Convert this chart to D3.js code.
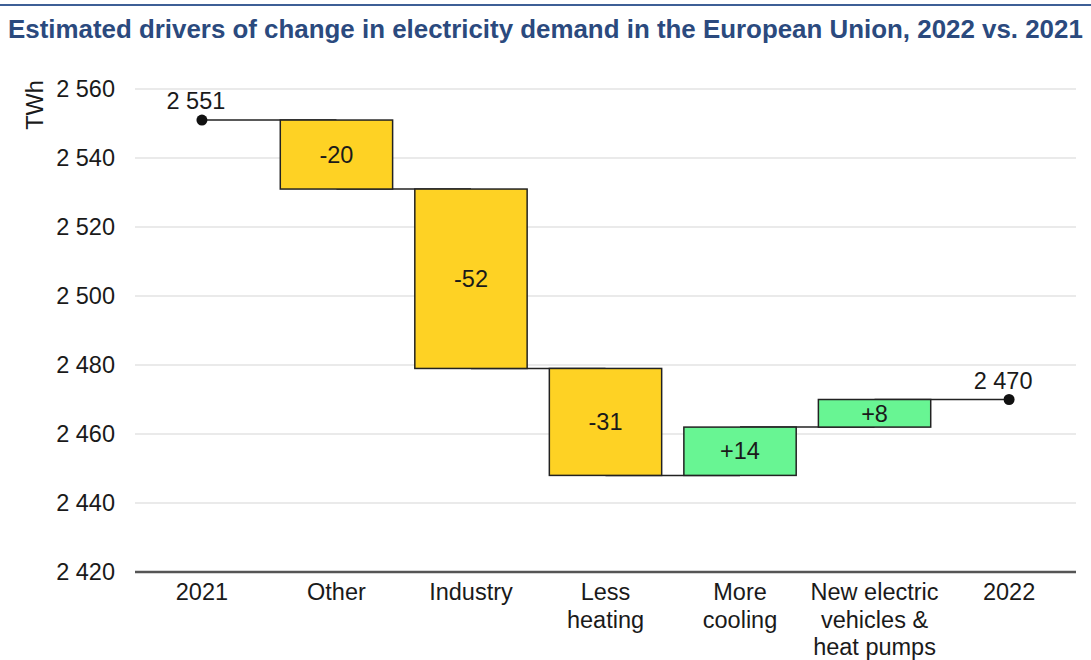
<!DOCTYPE html>
<html>
<head>
<meta charset="utf-8">
<script src="https://cdn.jsdelivr.net/npm/d3@7"></script>
<style>
  body { margin: 0; background: #fff; overflow: hidden; }
  text { font-family: "Liberation Sans", Arial, sans-serif; fill: #1a1a1a; }
</style>
</head>
<body>
<div id="chart"></div>
<script>
// Data
const categories = ['2021', 'Other', 'Industry', 'Less heating', 'More cooling', 'New electric vehicles & heat pumps', '2022'];
const categoryLines = [['2021'], ['Other'], ['Industry'], ['Less', 'heating'], ['More', 'cooling'], ['New electric', 'vehicles &', 'heat pumps'], ['2022']];
const startTotal = 2551;
const changes = [null, -20, -52, -31, 14, 8, null];
const endTotal = 2470;
const yTicks = [2420, 2440, 2460, 2480, 2500, 2520, 2540, 2560];

const width = 1091;
const height = 660;
const margin = { top: 89, right: 15, bottom: 88, left: 135 };
const innerWidth = width - margin.left - margin.right;
const innerHeight = height - margin.top - margin.bottom;
const fontSize = '23.5px';

const fmt = v => d3.format(',')(v).replace(/,/g, ' ');

// build waterfall steps
let running = startTotal;
const steps = categories.map((c, i) => {
  if (i === 0) return { cat: c, type: 'total', value: startTotal, level: startTotal };
  if (i === categories.length - 1) return { cat: c, type: 'total', value: endTotal, level: endTotal };
  const from = running;
  running += changes[i];
  return { cat: c, type: 'delta', value: changes[i], from: from, to: running, level: running };
});

const svg = d3.select('#chart').append('svg')
  .attr('width', width)
  .attr('height', height)
  .style('display', 'block');

// top rule + title
svg.append('line')
  .attr('x1', 0).attr('x2', width)
  .attr('y1', 5).attr('y2', 5)
  .attr('stroke', '#3d5f96').attr('stroke-width', 2);

svg.append('text')
  .attr('x', 8).attr('y', 38)
  .style('font-size', '25.9px').style('font-weight', 'bold')
  .style('fill', '#2b4a7e')
  .text('Estimated drivers of change in electricity demand in the European Union, 2022 vs. 2021');

const g = svg.append('g').attr('transform', `translate(${margin.left},${margin.top})`);

const xScale = d3.scaleBand().domain(categories).range([0, innerWidth]).paddingInner(0.165).paddingOuter(0.08);
const yScale = d3.scaleLinear().domain([2420, 2560]).range([innerHeight, 0]);

// gridlines
g.append('g').selectAll('line').data(yTicks.filter(t => t !== 2420)).enter().append('line')
  .attr('x1', 0).attr('x2', innerWidth)
  .attr('y1', d => yScale(d)).attr('y2', d => yScale(d))
  .attr('stroke', '#e3e3e3').attr('stroke-width', 1.5);

// y tick labels
g.append('g').selectAll('text').data(yTicks).enter().append('text')
  .attr('x', -20).attr('y', d => yScale(d))
  .attr('dy', '0.35em')
  .attr('text-anchor', 'end')
  .style('font-size', fontSize)
  .text(fmt);

svg.append('text')
  .attr('transform', 'translate(43,105) rotate(-90)')
  .attr('text-anchor', 'middle')
  .style('font-size', fontSize)
  .text('TWh');

const cx = c => xScale(c) + xScale.bandwidth() / 2;

// connectors
const conn = g.append('g');
for (let i = 0; i < steps.length - 1; i++) {
  conn.append('line')
    .attr('x1', cx(steps[i].cat)).attr('x2', cx(steps[i + 1].cat))
    .attr('y1', yScale(steps[i].level)).attr('y2', yScale(steps[i].level))
    .attr('stroke', '#222').attr('stroke-width', 1.5);
}

// bars
const deltas = steps.filter(s => s.type === 'delta');
g.append('g').selectAll('rect').data(deltas).enter().append('rect')
  .attr('x', d => xScale(d.cat))
  .attr('width', xScale.bandwidth())
  .attr('y', d => yScale(Math.max(d.from, d.to)))
  .attr('height', d => Math.abs(yScale(d.from) - yScale(d.to)))
  .attr('fill', d => d.value < 0 ? '#fed224' : '#68f593')
  .attr('stroke', '#222').attr('stroke-width', 1.5);

g.append('g').selectAll('text').data(deltas).enter().append('text')
  .attr('x', d => cx(d.cat))
  .attr('y', d => (yScale(d.from) + yScale(d.to)) / 2)
  .attr('dy', '0.35em')
  .attr('text-anchor', 'middle')
  .style('font-size', fontSize)
  .text(d => (d.value > 0 ? '+' : '') + d.value);

// totals
const totals = steps.filter(s => s.type === 'total');
g.append('g').selectAll('circle').data(totals).enter().append('circle')
  .attr('cx', d => cx(d.cat)).attr('cy', d => yScale(d.value))
  .attr('r', 5.5).attr('fill', '#111');

g.append('g').selectAll('text').data(totals).enter().append('text')
  .attr('x', d => cx(d.cat) - 6).attr('y', d => yScale(d.value) - 11)
  .attr('text-anchor', 'middle')
  .style('font-size', fontSize)
  .text(d => fmt(d.value));

// x axis
g.append('line')
  .attr('x1', 0).attr('x2', innerWidth)
  .attr('y1', innerHeight).attr('y2', innerHeight)
  .attr('stroke', '#555').attr('stroke-width', 2.5);

const xl = g.append('g').selectAll('text').data(categories).enter().append('text')
  .attr('x', d => cx(d))
  .attr('y', innerHeight + 28)
  .attr('text-anchor', 'middle')
  .style('font-size', fontSize);
xl.each(function(d, i) {
  const t = d3.select(this);
  categoryLines[i].forEach((line, j) => {
    t.append('tspan').attr('x', cx(d)).attr('dy', j === 0 ? 0 : 27.5).text(line);
  });
});
</script>
</body>
</html>
